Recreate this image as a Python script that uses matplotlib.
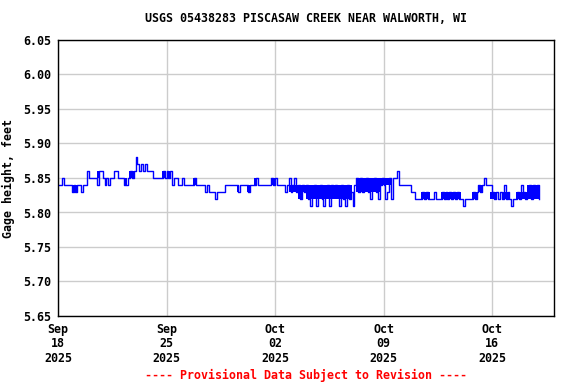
import matplotlib
matplotlib.use("Agg")
import matplotlib.pyplot as plt
import matplotlib.dates as mdates
import pandas as pd

# gage height readings, every 3 hours from 2025-09-18 00:00 (one row = one day)
start = "2025-09-18 00:00"
gage = [
    5.84, 5.84, 5.85, 5.84, 5.84, 5.84, 5.84, 5.83,
    5.84, 5.83, 5.84, 5.84, 5.83, 5.84, 5.84, 5.86,
    5.85, 5.85, 5.85, 5.85, 5.84, 5.86, 5.86, 5.85,
    5.84, 5.85, 5.84, 5.85, 5.85, 5.86, 5.86, 5.85,
    5.85, 5.85, 5.84, 5.84, 5.85, 5.86, 5.85, 5.86,
    5.88, 5.87, 5.86, 5.87, 5.86, 5.87, 5.86, 5.86,
    5.86, 5.85, 5.85, 5.85, 5.85, 5.85, 5.86, 5.85,
    5.86, 5.85, 5.86, 5.84, 5.85, 5.85, 5.84, 5.84,
    5.85, 5.84, 5.84, 5.84, 5.84, 5.84, 5.85, 5.84,
    5.84, 5.84, 5.84, 5.84, 5.83, 5.84, 5.83, 5.83,
    5.83, 5.82, 5.83, 5.83, 5.83, 5.83, 5.84, 5.84,
    5.84, 5.84, 5.84, 5.84, 5.84, 5.83, 5.84, 5.84,
    5.84, 5.84, 5.83, 5.84, 5.84, 5.84, 5.85, 5.84,
    5.84, 5.84, 5.84, 5.84, 5.84, 5.84, 5.85, 5.84,
    5.85, 5.84, 5.84, 5.84, 5.84, 5.83, 5.84, 5.85,
    5.83, 5.84, 5.85, 5.83, 5.84, 5.82, 5.84, 5.83,
    5.84, 5.82, 5.81, 5.83, 5.84, 5.81, 5.83, 5.84,
    5.82, 5.81, 5.83, 5.84, 5.81, 5.84, 5.83, 5.84,
    5.83, 5.81, 5.84, 5.82, 5.81, 5.84, 5.82, 5.83,
    5.81, 5.84, 5.85, 5.83, 5.85, 5.83, 5.84, 5.85,
    5.83, 5.82, 5.84, 5.85, 5.83, 5.82, 5.84, 5.85,
    5.84, 5.82, 5.83, 5.85, 5.82, 5.85, 5.85, 5.86,
    5.84, 5.84, 5.84, 5.84, 5.84, 5.84, 5.83, 5.83,
    5.82, 5.82, 5.82, 5.82, 5.83, 5.82, 5.83, 5.82,
    5.82, 5.82, 5.83, 5.82, 5.82, 5.82, 5.83, 5.82,
    5.83, 5.82, 5.83, 5.82, 5.83, 5.82, 5.83, 5.82,
    5.82, 5.81, 5.82, 5.82, 5.82, 5.82, 5.83, 5.82,
    5.83, 5.84, 5.83, 5.84, 5.85, 5.84, 5.84, 5.84,
    5.83, 5.82, 5.83, 5.82, 5.83, 5.82, 5.84, 5.82,
    5.83, 5.82, 5.81, 5.82, 5.82, 5.83, 5.82, 5.84,
    5.83, 5.82, 5.83, 5.84, 5.82, 5.84, 5.83, 5.84,
    5.82,
]

# spells where the gage flickers quickly between two levels (shows as a solid block)
band_start = ["2025-09-18 21:00", "2025-09-20 13:00", "2025-09-22 05:30", "2025-09-22 14:00",
              "2025-09-24 17:00", "2025-09-25 00:00", "2025-09-25 03:00", "2025-09-26 16:20",
              "2025-09-29 13:00", "2025-09-30 05:00", "2025-09-30 15:40", "2025-10-01 17:30",
              "2025-10-02 21:30", "2025-10-03 12:00", "2025-10-04 00:00", "2025-10-07 04:50",
              "2025-10-08 20:20", "2025-10-11 10:30", "2025-10-12 16:30", "2025-10-14 17:45",
              "2025-10-15 01:40", "2025-10-15 21:00", "2025-10-16 16:20", "2025-10-17 13:00",
              "2025-10-18 06:15"]
band_end = ["2025-09-19 06:15", "2025-09-20 16:20", "2025-09-22 10:30", "2025-09-22 21:00",
            "2025-09-24 21:00", "2025-09-25 02:10", "2025-09-25 05:45", "2025-09-26 21:30",
            "2025-09-29 17:00", "2025-09-30 09:20", "2025-09-30 19:10", "2025-10-02 00:45",
            "2025-10-04 00:00", "2025-10-03 17:15", "2025-10-06 22:50", "2025-10-08 20:20",
            "2025-10-09 13:00", "2025-10-11 23:30", "2025-10-13 23:45", "2025-10-15 01:40",
            "2025-10-15 10:50", "2025-10-16 07:30", "2025-10-17 02:40", "2025-10-18 06:15",
            "2025-10-19 00:00"]
band_low = [5.83, 5.85, 5.84, 5.85, 5.85, 5.85, 5.85, 5.84, 5.83, 5.83, 5.84, 5.84, 5.83,
            5.82, 5.82, 5.83, 5.84, 5.82, 5.82, 5.82, 5.83, 5.82, 5.82, 5.82, 5.82]
band_high = [5.84, 5.86, 5.85, 5.86, 5.86, 5.86, 5.86, 5.85, 5.84, 5.84, 5.85, 5.85, 5.84,
             5.83, 5.84, 5.85, 5.85, 5.83, 5.83, 5.83, 5.84, 5.83, 5.83, 5.83, 5.84]

y_ticks = [5.65, 5.70, 5.75, 5.80, 5.85, 5.90, 5.95, 6.00, 6.05]
x_ticks = ["2025-09-18", "2025-09-25", "2025-10-02", "2025-10-09", "2025-10-16"]
x_range = ["2025-09-18", "2025-10-20"]

title = "USGS 05438283 PISCASAW CREEK NEAR WALWORTH, WI"
ylabel = "Gage height, feet"
footer = "---- Provisional Data Subject to Revision ----"

times = pd.date_range(start, periods=len(gage), freq="3h")
blue = "#0000ff"

font = dict(family="DejaVu Sans Mono", weight="bold", size=8.4)

fig = plt.figure(figsize=(5.76, 3.84), dpi=100)
ax = fig.add_axes([58 / 576, 68 / 384, 496 / 576, 276 / 384])

for s, e, lo, hi in zip(band_start, band_end, band_low, band_high):
    ax.fill_between(pd.to_datetime([s, e]), lo, hi, color=blue, lw=0)
ax.step(times, gage, where="post", color=blue, lw=1.0)

ax.set_ylim(5.65, 6.05)
ax.set_yticks(y_ticks)
ax.set_yticklabels(["%.2f" % v for v in y_ticks], fontdict=font)
ax.set_xlim(pd.to_datetime(x_range[0]), pd.to_datetime(x_range[1]))
ax.set_xticks(pd.to_datetime(x_ticks))
ax.xaxis.set_major_formatter(mdates.DateFormatter("%b\n%d\n%Y"))
for lab in ax.get_xticklabels():
    lab.set_fontproperties(matplotlib.font_manager.FontProperties(**font))
    lab.set_linespacing(1.15)

ax.grid(True, color="#cccccc", lw=1.0)
ax.set_axisbelow(True)
ax.tick_params(length=0, pad=5)
for sp in ax.spines.values():
    sp.set_color("black")
    sp.set_linewidth(1.0)

ax.set_ylabel(ylabel, fontdict=font, labelpad=6)
fig.text(306 / 576, 1 - 19 / 384, title, ha="center", va="center", **font)
fig.text(306 / 576, 1 - 375 / 384, footer, ha="center", va="center", color="red", **font)

fig.savefig("out.png", dpi=100)
